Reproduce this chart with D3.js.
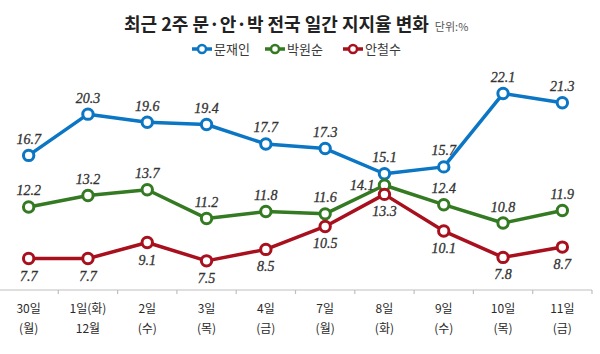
<!DOCTYPE html>
<html><head><meta charset="utf-8">
<script src="https://cdn.jsdelivr.net/npm/d3@7"></script>
<style>body{margin:0;background:#fff}svg{display:block}</style>
</head><body>
<svg id="c" width="600" height="354"></svg>
<script>
const categories = ["30일","1일(화)","2일","3일","4일","7일","8일","9일","10일","11일"];
const subLabels = ["(월)","12월","(수)","(목)","(금)","(월)","(화)","(수)","(목)","(금)"];
const moon = [16.7,20.3,19.6,19.4,17.7,17.3,15.1,15.7,22.1,21.3];
const park = [12.2,13.2,13.7,11.2,11.8,11.6,14.1,12.4,10.8,11.9];
const ahn  = [7.7,7.7,9.1,7.5,8.5,10.5,13.3,10.1,7.8,8.7];
const seriesNames = ["문재인","박원순","안철수"];
const seriesColors = ["#0b76c4","#347a22","#a8101e"];
const labelPos = [
  ["a","a","a","a","a","a","a","a","a","a"],
  ["a","a","a","a","a","a","l","a","a","a"],
  ["b","b","b","b","b","b","b","b","b","b"]
];

const svg = d3.select("#c");
const x = d3.scaleBand().domain(categories).range([-1, 592]);
const y = d3.scaleLinear().domain([5, 25]).range([289.5, 60.3]);
const cx = c => x(c) + x.bandwidth()/2;

// axis
const axis = d3.axisBottom(x).tickSize(0).tickFormat("");
const gx = svg.append("g").attr("transform","translate(0,290)").call(axis);
gx.select(".domain").attr("stroke","#bfbfbf").attr("stroke-width",1.2).attr("d","M0,0H592");
gx.selectAll(".tickmark").data(categories).enter().append("line")
  .attr("x1", c => x(c)+x.bandwidth()).attr("x2", c => x(c)+x.bandwidth())
  .attr("y1",0).attr("y2",4).attr("stroke","#bfbfbf").attr("stroke-width",1.2);
gx.selectAll(".tick").each(function(c,i){
  const t = d3.select(this);
  t.append("text").attr("y",23).attr("text-anchor","middle").attr("fill","#2a2a2a")
   .attr("font-family","'Noto Sans CJK KR'").attr("font-size",12).text(c);
  t.append("text").attr("y",43).attr("text-anchor","middle").attr("fill","#2a2a2a")
   .attr("font-family","'Noto Sans CJK KR'").attr("font-size",12).text(subLabels[i]);
});

// title
const title = svg.append("text").attr("x",124).attr("y",31)
  .attr("font-family","'Noto Sans CJK KR'").attr("font-weight","bold").attr("font-size",18).attr("fill","#222");
title.append("tspan").text("최근 2주 문·안·박 전국 일간 지지율 변화");
title.append("tspan").attr("dx",6).attr("font-size",11).attr("font-weight","normal").attr("fill","#555").text("단위:%");

// legend
const legX = [192, 265, 343];
seriesNames.forEach((n,i)=>{
  const g = svg.append("g").attr("transform",`translate(${legX[i]},49)`);
  g.append("line").attr("x1",0).attr("x2",20).attr("stroke",seriesColors[i]).attr("stroke-width",3.5);
  g.append("circle").attr("cx",10).attr("r",4).attr("fill","#fff").attr("stroke",seriesColors[i]).attr("stroke-width",2.5);
  g.append("text").attr("x",22).attr("y",4.8).attr("font-family","'Noto Sans CJK KR'").attr("font-size",13)
   .attr("fill","#3a3a3a").text(n);
});

// series
const data = [moon, park, ahn];
const line = d3.line().x((d,i)=>cx(categories[i])).y(d=>y(d));
data.forEach((s,si)=>{
  svg.append("path").datum(s).attr("d",line).attr("fill","none")
    .attr("stroke",seriesColors[si]).attr("stroke-width",3.5).attr("stroke-linejoin","round");
});
data.forEach((s,si)=>{
  svg.selectAll(null).data(s).enter().append("circle")
    .attr("cx",(d,i)=>cx(categories[i])).attr("cy",d=>y(d)).attr("r",5.2)
    .attr("fill","#fff").attr("stroke",seriesColors[si]).attr("stroke-width",3);
});
data.forEach((s,si)=>{
  svg.selectAll(null).data(s).enter().append("text")
    .attr("x",(d,i)=>{const p=labelPos[si][i]; return cx(categories[i]) + (p==="l"?-10:0);})
    .attr("y",(d,i)=>{const p=labelPos[si][i]; return y(d) + (p==="a"?-11.5:(p==="b"?22:4.5));})
    .attr("text-anchor",(d,i)=>labelPos[si][i]==="l"?"end":"middle")
    .attr("font-family","'Liberation Serif'").attr("font-style","italic").attr("font-size",14)
    .attr("fill","#333").attr("stroke","#333").attr("stroke-width",0.3)
    .text(d=>d.toFixed(1));
});
</script>
</body></html>
